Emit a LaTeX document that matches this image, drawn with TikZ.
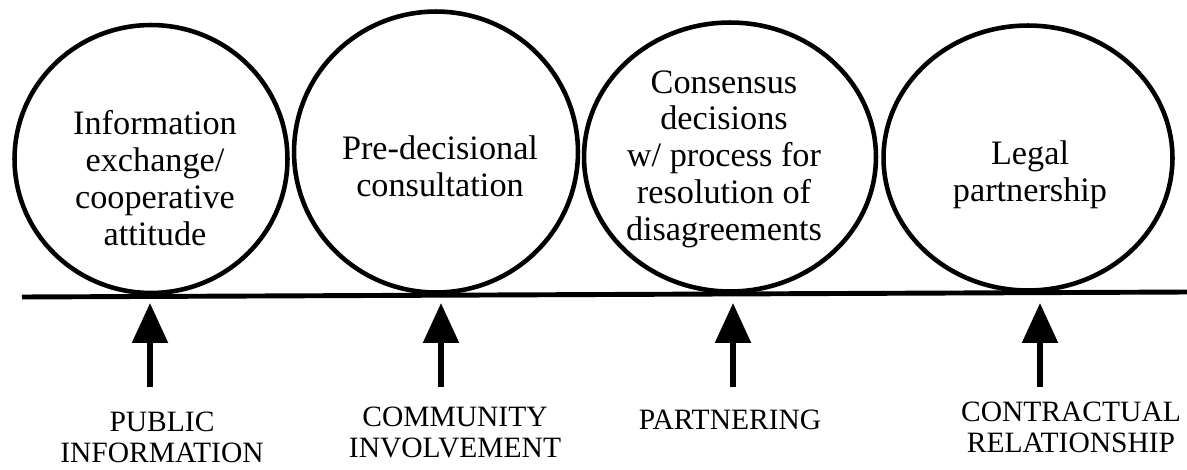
\documentclass[tikz,border=0pt]{standalone}
\usepackage{fontspec}
\setmainfont{Liberation Serif}
\usetikzlibrary{arrows.meta,positioning,shapes.geometric}

\begin{document}
\begin{tikzpicture}[x=0.02cm, y=-0.02cm,
  stage/.style={ellipse, draw, line width=2.6pt, inner sep=0pt},
  stagetext/.style={align=center, inner sep=0pt, anchor=north,
                    font=\fontsize{19.5}{21}\selectfont},
  relation/.style={align=center, inner sep=0pt, anchor=north,
                   font=\fontsize{16.8}{17.6}\selectfont},
  uparrow/.style={line width=3.2pt, -{Triangle[length=0.8cm, width=0.7cm]}},
  axisline/.style={line width=2.8pt}
]
\useasboundingbox (0,0) rectangle (1187,470);

% stages
\node[stage, minimum width=5.46cm, minimum height=5.36cm] (s1) at (151,159) {};
\node[stage, minimum width=5.68cm, minimum height=5.62cm] (s2) at (436,152) {};
\node[stage, minimum width=5.84cm, minimum height=5.38cm] (s3) at (730,157) {};
\node[stage, minimum width=5.78cm, minimum height=5.30cm] (s4) at (1028,158) {};

\node[stagetext] (t1) at (155,110) {Information\\exchange/\\cooperative\\attitude};
\node[stagetext] (t2) at (440,135) {Pre-decisional\\consultation};
\node[stagetext] (t3) at (724,70) {Consensus\\decisions\\w/ process for\\resolution of\\disagreements};
\node[stagetext] (t4) at (1030,140) {Legal\\partnership};

% axis
\coordinate (west) at (22,297);
\coordinate (east) at (1187,292);
\draw[axisline] (west) -- (east);

% relationships
\node[relation] (r1) at (162,412) {PUBLIC\\INFORMATION};
\node[relation] (r2) at (455,407) {COMMUNITY\\INVOLVEMENT};
\node[relation] (r3) at (730,410) {PARTNERING};
\node[relation] (r4) at (1071,402) {CONTRACTUAL\\RELATIONSHIP};

\foreach \x/\n in {150/1, 441/2, 733/3, 1040/4} {
  \coordinate (foot\n) at (\x,387);
  \coordinate (tip\n) at (\x,303);
  \draw[uparrow] (foot\n) -- (tip\n);
}
\end{tikzpicture}
\end{document}
